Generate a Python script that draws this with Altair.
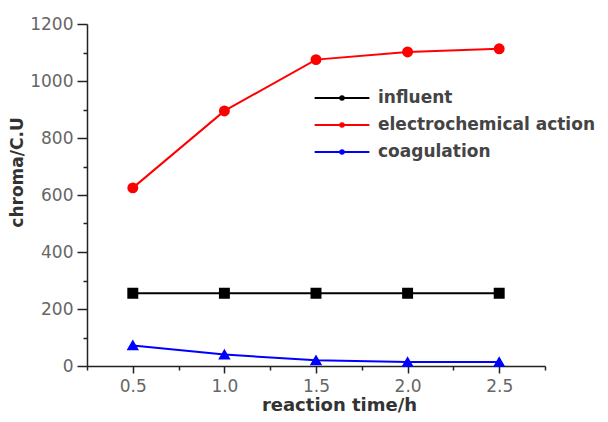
import altair as alt
import pandas as pd

times = [0.5, 1.0, 1.5, 2.0, 2.5]
series = ["influent", "electrochemical action", "coagulation"]
influent = [255, 255, 255, 255, 255]
electro = [625, 895, 1075, 1102, 1113]
coag = [72, 40, 20, 14, 14]
colors = ["#000000", "#ff0000", "#0000ff"]
shapes = ["square", "circle", "triangle-up"]

rows = []
for name, col, shp, vals in zip(series, colors, shapes, [influent, electro, coag]):
    for t, v in zip(times, vals):
        rows.append({"t": t, "v": v, "s": name, "c": col, "m": shp})
df = pd.DataFrame(rows)

font = "DejaVu Sans"
xs = alt.Scale(domain=[0.25, 2.75], nice=False, zero=False)
ys = alt.Scale(domain=[0, 1200], nice=False)

x_ax = alt.Axis(
    values=[0.25, 0.5, 0.75, 1.0, 1.25, 1.5, 1.75, 2.0, 2.25, 2.5, 2.75],
    labelExpr="(datum.value*2) % 1 === 0 ? format(datum.value, '.1f') : ''",
    tickSize={"condition": {"test": "(datum.value*2) % 1 === 0", "value": 7}, "value": 4},
    grid=False, domainColor="#222", domainWidth=1.5, tickColor="#222", tickWidth=1.5,
    labelColor="#666", labelFontSize=17, labelFont=font, labelPadding=5,
    title="reaction time/h", titleFont=font, titleFontSize=18, titleFontWeight="bold",
    titleColor="#333", titlePadding=2, titleX=252,
)
y_ax = alt.Axis(
    values=list(range(0, 1201, 100)),
    labelExpr="datum.value % 200 === 0 ? datum.value : ''",
    tickSize={"condition": {"test": "datum.value % 200 === 0", "value": 10}, "value": 4},
    grid=False, domainColor="#222", domainWidth=1.5, tickColor="#222", tickWidth=1.5,
    labelColor="#666", labelFontSize=17, labelFont=font, labelPadding=4,
    title="chroma/C.U", titleFont=font, titleFontSize=17, titleFontWeight="bold",
    titleColor="#333", titlePadding=3, titleY=148,
)

color = alt.Color(
    "s:N",
    scale=alt.Scale(domain=series, range=colors),
    legend=alt.Legend(
        title=None, orient="none", legendX=240, legendY=59,
        symbolType=("M-2,0L2,0"
                    "M-0.13,0A0.13,0.13 0 1,0 0.13,0A0.13,0.13 0 1,0 -0.13,0Z"
                    "M-0.05,0A0.05,0.05 0 1,0 0.05,0A0.05,0.05 0 1,0 -0.05,0Z"),
        symbolSize=750, symbolStrokeWidth=2, symbolFillColor="transparent",
        labelFont=font, labelFontSize=17, labelFontWeight="bold", labelColor="#444",
        labelLimit=400, rowPadding=4, labelOffset=21, padding=0,
    ),
)

base = alt.Chart(df).encode(
    x=alt.X("t:Q", scale=xs, axis=x_ax),
    y=alt.Y("v:Q", scale=ys, axis=y_ax),
)
lines = base.mark_line(strokeWidth=2).encode(color=color, detail="s:N")
pts = base.mark_point(filled=True, size=80, opacity=1).encode(
    fill=alt.Fill("c:N", scale=None),
    stroke=alt.Stroke("c:N", scale=None),
    shape=alt.Shape("m:N", scale=None),
)

chart = alt.layer(lines, pts).properties(
    width=458, height=342,
    autosize=alt.AutoSizeParams(type="none"),
    padding={"left": 79, "top": 16, "right": 52, "bottom": 50},
    background="white",
).configure_view(stroke=None)

chart.save("out.html", embed_options={"renderer": "svg", "actions": False})
